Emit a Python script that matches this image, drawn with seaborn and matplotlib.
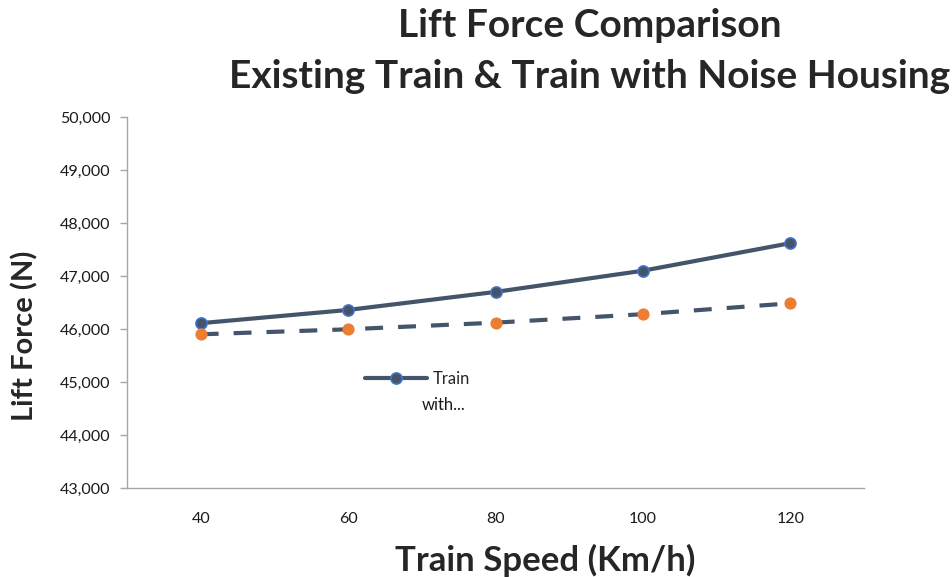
import pandas as pd
import seaborn as sns
import matplotlib.pyplot as plt
from matplotlib.ticker import FuncFormatter

sns.set_theme(style="white")
plt.rcParams['font.family'] = ['Lato', 'DejaVu Sans']

# data
speeds = ["40", "60", "80", "100", "120"]
existing_train = [46110, 46360, 46700, 47100, 47620]
noise_housing = [45900, 45995, 46120, 46280, 46485]

df = pd.DataFrame({"speed": speeds, "existing": existing_train, "housing": noise_housing})

fig = plt.figure(figsize=(9.52, 5.77), dpi=100)
ax = fig.add_axes([0.1334, 0.1542, 0.7742, 0.643])

slate = "#44546A"
sns.lineplot(data=df, x="speed", y="existing", ax=ax, color=slate, linewidth=3,
             marker="o", markersize=8, markerfacecolor=slate,
             markeredgecolor="#4472C4", markeredgewidth=1.2, label="Train")
sns.lineplot(data=df, x="speed", y="housing", ax=ax, color=slate, linewidth=3,
             linestyle=(0, (4.3, 3.6)), marker="o", markersize=8,
             markerfacecolor="#ED7D31", markeredgecolor="#ED7D31", label="_nolegend_")

ax.set_xlim(-0.5, 4.5)
ax.set_ylim(43000, 50000)
ax.set_yticks(range(43000, 50001, 1000))
ax.yaxis.set_major_formatter(FuncFormatter(lambda v, p: f"{int(v):,}"))

for s in ["top", "right"]:
    ax.spines[s].set_visible(False)
for s in ["left", "bottom"]:
    ax.spines[s].set_color("#A6A6A6")
    ax.spines[s].set_linewidth(1)

ax.tick_params(axis="y", left=True, length=5, width=1, color="#A6A6A6",
               labelsize=11.5, pad=7, labelcolor="#1a1a1a")
ax.tick_params(axis="x", bottom=False, labelsize=11.5, pad=11, labelcolor="#1a1a1a")

ax.set_xlabel("Train Speed (Km/h)", fontsize=25, fontweight="bold")
ax.xaxis.set_label_coords(0.567, -0.15)
ax.set_ylabel("Lift Force (N)", fontsize=21, fontweight="bold")
ax.yaxis.set_label_coords(-0.12, 0.41)

fig.text(0.619, 0.955, "Lift Force Comparison", ha="center", va="center",
         fontsize=28, fontweight="bold")
fig.text(0.619, 0.868, "Existing Train & Train with Noise Housing", ha="center",
         va="center", fontsize=28, fontweight="bold")

# truncated legend like the original
leg = ax.legend(loc="center left", bbox_to_anchor=(0.323, 0.294), frameon=False,
                fontsize=12, handlelength=3.7, handletextpad=0.35,
                borderpad=0, borderaxespad=0)
ax.text(0.430, 0.224, "with...", transform=ax.transAxes, ha="center", va="center",
        fontsize=12, color="#1a1a1a")

fig.savefig("out.png", dpi=100)
